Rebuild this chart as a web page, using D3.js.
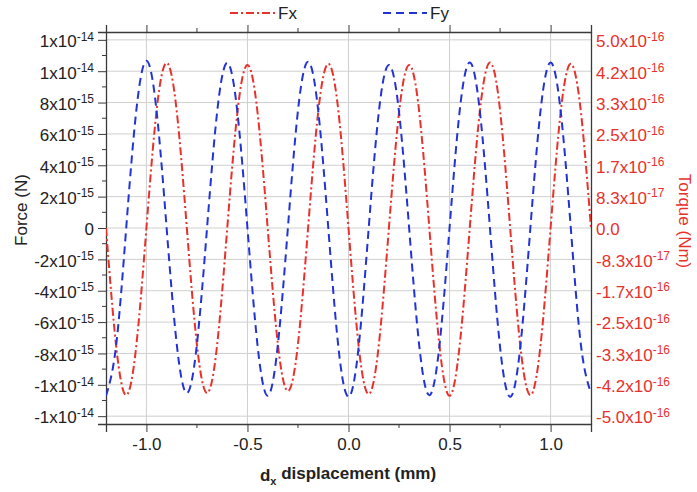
<!DOCTYPE html>
<html><head><meta charset="utf-8">
<script src="https://cdn.jsdelivr.net/npm/d3@7"></script>
<style>body{margin:0;background:#fff}svg{display:block}</style>
</head><body>
<script>
// ---- data ----
const xValues = [-1.20,-1.15,-1.10,-1.05,-1.00,-0.95,-0.90,-0.85,-0.80,-0.75,-0.70,-0.65,-0.60,-0.55,-0.50,-0.45,-0.40,-0.35,-0.30,-0.25,-0.20,-0.15,-0.10,-0.05,0.00,0.05,0.10,0.15,0.20,0.25,0.30,0.35,0.40,0.45,0.50,0.55,0.60,0.65,0.70,0.75,0.80,0.85,0.90,0.95,1.00,1.05,1.10,1.15,1.20];
const fxValues = [0,-0.75e-14,-1.066e-14,-0.75e-14,0,0.745e-14,1.053e-14,0.745e-14,0,-0.745e-14,-1.053e-14,-0.745e-14,0,0.735e-14,1.04e-14,0.735e-14,0,-0.735e-14,-1.04e-14,-0.74e-14,0,0.74e-14,1.047e-14,0.745e-14,0,-0.75e-14,-1.06e-14,-0.745e-14,0,0.735e-14,1.04e-14,0.74e-14,0,-0.75e-14,-1.07e-14,-0.75e-14,0,0.745e-14,1.055e-14,0.75e-14,0,-0.75e-14,-1.066e-14,-0.75e-14,0,0.74e-14,1.047e-14,0.74e-14,0];
const fyValues = [-1.07e-14,-0.75e-14,0,0.75e-14,1.066e-14,0.75e-14,0,-0.74e-14,-1.053e-14,-0.74e-14,0,0.74e-14,1.053e-14,0.74e-14,0,-0.75e-14,-1.07e-14,-0.75e-14,0,0.75e-14,1.06e-14,0.75e-14,0,-0.76e-14,-1.077e-14,-0.76e-14,0,0.74e-14,1.04e-14,0.74e-14,0,-0.75e-14,-1.066e-14,-0.75e-14,0,0.745e-14,1.055e-14,0.745e-14,0,-0.76e-14,-1.077e-14,-0.76e-14,0,0.745e-14,1.055e-14,0.745e-14,0,-0.745e-14,-1.053e-14];
const seriesNames = ["Fx","Fy"];
const xTicks = [-1.0,-0.5,0.0,0.5,1.0];
const xTickLabels = ["-1.0","-0.5","0.0","0.5","1.0"];
const xMinorTicks = [-0.75,-0.25,0.25,0.75];
const leftTicks = [1.2e-14,1.0e-14,8e-15,6e-15,4e-15,2e-15,0,-2e-15,-4e-15,-6e-15,-8e-15,-1.0e-14,-1.2e-14];
const leftTickLabels = ["1x10^-14","1x10^-14","8x10^-15","6x10^-15","4x10^-15","2x10^-15","0","-2x10^-15","-4x10^-15","-6x10^-15","-8x10^-15","-1x10^-14","-1x10^-14"];
const leftMinorTicks = [1.1e-14,9e-15,7e-15,5e-15,3e-15,1e-15,-1e-15,-3e-15,-5e-15,-7e-15,-9e-15,-1.1e-14];
const rightTicks = [5.0e-16,4.1667e-16,3.3333e-16,2.5e-16,1.6667e-16,8.333e-17,0,-8.333e-17,-1.6667e-16,-2.5e-16,-3.3333e-16,-4.1667e-16,-5.0e-16];
const rightTickLabels = ["5.0x10^-16","4.2x10^-16","3.3x10^-16","2.5x10^-16","1.7x10^-16","8.3x10^-17","0.0","-8.3x10^-17","-1.7x10^-16","-2.5x10^-16","-3.3x10^-16","-4.2x10^-16","-5.0x10^-16"];

// ---- layout ----
const W = 697, H = 492;
const L = 106, R = 591, T = 32, B = 424;
const FONT = "'Liberation Sans', Arial, sans-serif";
const RED = "#e8312b", BLUE = "#2233d6", AX = "#3a3a3a", GRID = "#cfcfcf";
const FS = 17, SUP = 12;

const svg = d3.select("body").append("svg").attr("width", W).attr("height", H)
  .style("font-family", FONT);

const x = d3.scaleLinear().domain([-1.2, 1.2]).range([L, R]);
const y = d3.scaleLinear().domain([-1.25e-14, 1.25e-14]).range([B, T]);
const yR = d3.scaleLinear().domain([-5.2083e-16, 5.2083e-16]).range([B, T]);

// grid
svg.append("g").selectAll("line").data(leftTicks).join("line")
  .attr("x1", L).attr("x2", R).attr("y1", d => y(d)).attr("y2", d => y(d))
  .attr("stroke", GRID).attr("stroke-width", 1);
svg.append("g").selectAll("line").data(xTicks).join("line")
  .attr("y1", T).attr("y2", B).attr("x1", d => x(d)).attr("x2", d => x(d))
  .attr("stroke", GRID).attr("stroke-width", 1);

function supLabel(sel) {
  sel.each(function() {
    const t = d3.select(this);
    const s = t.attr("data-lab");
    t.text(null);
    const parts = s.split("^");
    t.append("tspan").text(parts[0]);
    if (parts.length > 1) {
      t.append("tspan").attr("font-size", SUP).attr("dy", "-0.55em").text(parts[1]);
    }
  });
}

// bottom axis
const gx = svg.append("g").attr("transform", `translate(0,${B})`)
  .call(d3.axisBottom(x).tickValues(xTicks).tickSize(8).tickPadding(6)
    .tickFormat((d, i) => xTickLabels[i]));
gx.selectAll("text").attr("font-size", FS).attr("fill", "#222").attr("font-family", FONT);
gx.append("g").selectAll("line").data(xMinorTicks).join("line")
  .attr("x1", d => x(d)).attr("x2", d => x(d)).attr("y1", 0).attr("y2", 4).attr("stroke", AX);

// top axis (ticks only)
const gt = svg.append("g").attr("transform", `translate(0,${T})`)
  .call(d3.axisTop(x).tickValues(xTicks).tickSize(7).tickFormat(""));
gt.append("g").selectAll("line").data(xMinorTicks).join("line")
  .attr("x1", d => x(d)).attr("x2", d => x(d)).attr("y1", 0).attr("y2", -4).attr("stroke", AX);

// left axis
const gl = svg.append("g").attr("transform", `translate(${L},0)`)
  .call(d3.axisLeft(y).tickValues(leftTicks).tickSize(8).tickPadding(4)
    .tickFormat((d, i) => leftTickLabels[i]));
gl.selectAll(".tick text").attr("data-lab", function() { return this.textContent; })
  .attr("font-size", FS).attr("fill", "#222").attr("font-family", FONT).attr("dy", "0.4em")
  .call(supLabel);
gl.append("g").selectAll("line").data(leftMinorTicks).join("line")
  .attr("y1", d => y(d)).attr("y2", d => y(d)).attr("x1", 0).attr("x2", -4).attr("stroke", AX);

// right axis
const gr = svg.append("g").attr("transform", `translate(${R},0)`)
  .call(d3.axisRight(yR).tickValues(rightTicks).tickSize(0).tickPadding(5)
    .tickFormat((d, i) => rightTickLabels[i]));
gr.selectAll(".tick text").attr("data-lab", function() { return this.textContent; })
  .attr("font-size", FS).attr("fill", RED).attr("font-family", FONT).attr("dy", "0.4em")
  .call(supLabel);

[gx, gt, gl, gr].forEach(g => {
  g.select(".domain").attr("stroke", AX).attr("stroke-width", 1.3);
  g.selectAll(".tick line").attr("stroke", AX);
});

// curves
svg.append("clipPath").attr("id", "clip").append("rect")
  .attr("x", L).attr("y", T).attr("width", R - L).attr("height", B - T);
const line = d3.line().curve(d3.curveNatural).x(d => x(d[0])).y(d => y(d[1]));
const plot = svg.append("g").attr("clip-path", "url(#clip)");
plot.append("path").datum(xValues.map((v, i) => [v, fxValues[i]]))
  .attr("d", line).attr("fill", "none").attr("stroke", RED).attr("stroke-width", 2)
  .attr("stroke-dasharray", "8,3,2,3");
plot.append("path").datum(xValues.map((v, i) => [v, fyValues[i]]))
  .attr("d", line).attr("fill", "none").attr("stroke", BLUE).attr("stroke-width", 2)
  .attr("stroke-dasharray", "8,5");

// legend
const leg = svg.append("g");
leg.append("line").attr("x1", 230).attr("x2", 275).attr("y1", 13).attr("y2", 13)
  .attr("stroke", RED).attr("stroke-width", 2).attr("stroke-dasharray", "8,3,2,3");
leg.append("text").attr("x", 278).attr("y", 19).attr("font-size", FS).attr("fill", "#222").text(seriesNames[0]);
leg.append("line").attr("x1", 383).attr("x2", 427).attr("y1", 13).attr("y2", 13)
  .attr("stroke", BLUE).attr("stroke-width", 2).attr("stroke-dasharray", "8,5");
leg.append("text").attr("x", 430).attr("y", 19).attr("font-size", FS).attr("fill", "#222").text(seriesNames[1]);

// axis titles
svg.append("text").attr("transform", "translate(27,210) rotate(-90)")
  .attr("text-anchor", "middle").attr("font-size", FS).attr("fill", "#222").text("Force (N)");
svg.append("text").attr("transform", "translate(679,221) rotate(90)")
  .attr("text-anchor", "middle").attr("font-size", FS).attr("fill", RED).text("Torque (Nm)");
const xt = svg.append("text").attr("x", 348).attr("y", 481).attr("text-anchor", "middle")
  .attr("font-size", FS).attr("font-weight", "bold").attr("fill", "#222");
xt.append("tspan").text("d");
xt.append("tspan").attr("font-size", 11).attr("dy", "0.35em").text("x");
xt.append("tspan").attr("dy", "-0.35em").text(" displacement (mm)");
</script>
</body></html>
